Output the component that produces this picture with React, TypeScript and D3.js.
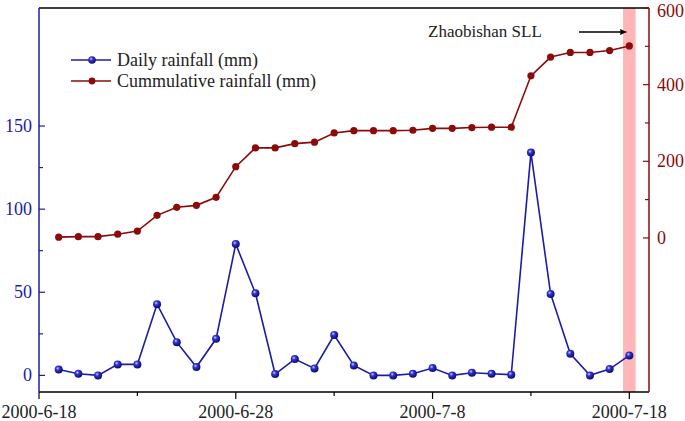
import * as d3 from 'd3';

// daily rainfall (mm), 2000-6-19 .. 2000-7-18
const daily = [3.5, 1, 0, 6.6, 6.6, 42.8, 20, 5, 22, 79, 49.4, 0.8, 9.8, 4.2, 24.3, 6, 0, 0, 1, 4.4, 0, 1.6, 1, 0.4, 134, 49, 13, 0, 3.8, 12];
// cummulative rainfall (mm)
const cumulative = [2, 3.4, 3.4, 9.7, 18, 59, 80, 85, 106, 186, 235, 235, 246, 250, 274, 280, 280, 280, 281, 286, 286, 288, 289, 289, 423, 472, 484, 484, 489, 501];
const dates = d3.timeDay.range(new Date(2000, 5, 19), new Date(2000, 6, 19));
const xTickDates = [new Date(2000, 5, 18), new Date(2000, 5, 28), new Date(2000, 6, 8), new Date(2000, 6, 18)];
const xMinorDates = [new Date(2000, 5, 23), new Date(2000, 6, 3), new Date(2000, 6, 13)];
const leftTicks = [0, 50, 100, 150];
const leftMinor = [25, 75, 125];
const rightTicks = [0, 200, 400, 600];
const rightMinor = [100, 300, 500];
const legendLabels = ['Daily rainfall (mm)', 'Cummulative rainfall (mm)'];
const sllDate = new Date(2000, 6, 18);

const BLUE = '#1c1ca6';
const RED = '#8b0a0a';
const FONT = '"Liberation Serif", "Times New Roman", serif';

export default function App() {
  const width = 685;
  const height = 421;
  const margin = { top: 8, right: 36, bottom: 29, left: 39 };
  const x0 = margin.left;
  const x1 = width - margin.right;
  const y0 = height - margin.bottom;
  const y1 = margin.top;

  const xScale = d3.scaleTime().domain([new Date(2000, 5, 18), new Date(2000, 6, 19)]).range([x0, x1]);
  const yLeft = d3.scaleLinear().domain([-10, 221]).range([y0, y1]);
  const yRight = d3.scaleLinear().domain([-402, 600]).range([y0, y1]);

  const dailyLine = d3.line<number>().x((_, i) => xScale(dates[i])).y((d) => yLeft(d));
  const cumLine = d3.line<number>().x((_, i) => xScale(dates[i])).y((d) => yRight(d));

  const bandHalf = 6.3;
  const sx = xScale(sllDate);

  return (
    <svg width={width} height={height} style={{ position: 'absolute', left: 0, top: 0, background: '#fff' }} fontFamily={FONT}>
      <defs>
        <radialGradient id="ball" cx="38%" cy="35%" r="65%">
          <stop offset="0%" stopColor="#d0d0ff" />
          <stop offset="35%" stopColor="#3434d4" />
          <stop offset="100%" stopColor="#0a0a70" />
        </radialGradient>
        <marker id="arrow" viewBox="0 0 10 10" refX="10" refY="5" markerWidth="10" markerHeight="6" orient="auto" markerUnits="userSpaceOnUse">
          <path d="M0,0 L10,5 L0,10 z" fill="#000" />
        </marker>
      </defs>

      {/* SLL band */}
      <rect x={sx - bandHalf} y={y1} width={bandHalf * 2} height={y0 - y1} fill="#ffb6b9" />

      {/* frame */}
      <line x1={x0} x2={x1} y1={y1} y2={y1} stroke="#000" strokeWidth={1.3} />
      <line x1={x0} x2={x1} y1={y0} y2={y0} stroke="#000" strokeWidth={1.3} />
      <line x1={x0} x2={x0} y1={y1} y2={y0} stroke={BLUE} strokeWidth={1.5} />
      <line x1={x1} x2={x1} y1={y1} y2={y0} stroke={RED} strokeWidth={1.5} />

      {/* bottom axis */}
      {xTickDates.map((d) => (
        <g key={'xt' + d.getTime()}>
          <line x1={xScale(d)} x2={xScale(d)} y1={y0} y2={y0 + 7} stroke="#000" strokeWidth={1.2} />
          <text x={xScale(d)} y={418} textAnchor="middle" fontSize={18} fill="#222">
            {d3.timeFormat('%Y-%-m-%-d')(d)}
          </text>
        </g>
      ))}
      {xMinorDates.map((d) => (
        <line key={'xm' + d.getTime()} x1={xScale(d)} x2={xScale(d)} y1={y0} y2={y0 + 4} stroke="#000" strokeWidth={1.2} />
      ))}

      {/* left axis */}
      {leftTicks.map((v) => (
        <g key={'lt' + v}>
          <line x1={x0} x2={x0 + 6} y1={yLeft(v)} y2={yLeft(v)} stroke={BLUE} strokeWidth={1.2} />
          <text x={32} y={yLeft(v)} dy="0.34em" textAnchor="end" fontSize={18} fill={BLUE}>{v}</text>
        </g>
      ))}
      {leftMinor.map((v) => (
        <line key={'lm' + v} x1={x0} x2={x0 + 4} y1={yLeft(v)} y2={yLeft(v)} stroke={BLUE} strokeWidth={1.2} />
      ))}

      {/* right axis */}
      {rightTicks.map((v) => (
        <g key={'rt' + v}>
          <line x1={x1} x2={x1 - 6} y1={yRight(v)} y2={yRight(v)} stroke={RED} strokeWidth={1.2} />
          <text x={657} y={Math.max(yRight(v), 11)} dy="0.34em" textAnchor="start" fontSize={18} fill={RED}>{v}</text>
        </g>
      ))}
      {rightMinor.map((v) => (
        <line key={'rm' + v} x1={x1} x2={x1 - 4} y1={yRight(v)} y2={yRight(v)} stroke={RED} strokeWidth={1.2} />
      ))}

      {/* series */}
      <path d={cumLine(cumulative) || ''} fill="none" stroke={RED} strokeWidth={1.6} />
      {cumulative.map((v, i) => (
        <circle key={'c' + i} cx={xScale(dates[i])} cy={yRight(v)} r={3.6} fill={RED} />
      ))}
      <path d={dailyLine(daily) || ''} fill="none" stroke={BLUE} strokeWidth={1.6} />
      {daily.map((v, i) => (
        <circle key={'d' + i} cx={xScale(dates[i])} cy={yLeft(v)} r={4} fill="url(#ball)" />
      ))}

      {/* legend */}
      {legendLabels.map((label, i) => {
        const ly = 60 + i * 21;
        return (
          <g key={label}>
            <line x1={71} x2={111} y1={ly} y2={ly} stroke={i === 0 ? BLUE : RED} strokeWidth={1.6} />
            {i === 0
              ? <circle cx={92} cy={ly} r={3.8} fill="url(#ball)" />
              : <circle cx={92} cy={ly} r={3.4} fill={RED} />}
            <text x={117} y={ly} dy="0.34em" fontSize={18} fill="#222">{label}</text>
          </g>
        );
      })}

      {/* annotation */}
      <text x={428} y={37} fontSize={17} fill="#222">Zhaobishan SLL</text>
      <line x1={579} x2={sx - 3} y1={32} y2={32} stroke="#000" strokeWidth={1.6} markerEnd="url(#arrow)" />
    </svg>
  );
}
